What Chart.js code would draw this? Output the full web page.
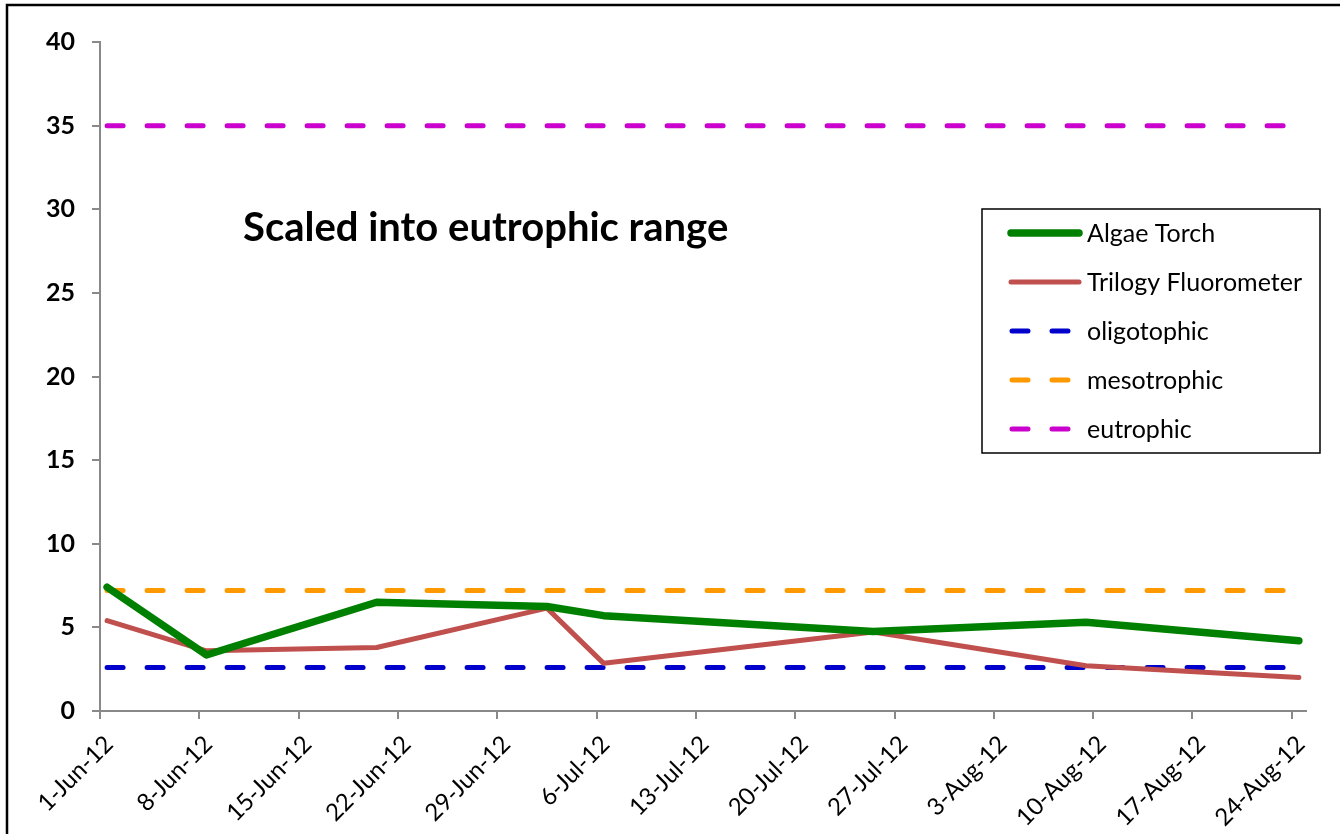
<!DOCTYPE html>
<html><head><meta charset="utf-8">
<script src="https://cdn.jsdelivr.net/npm/chart.js@4.4.0/dist/chart.umd.min.js"></script>
<style>html,body{margin:0;padding:0;background:#fff;}#wrap{width:1340px;height:834px;position:relative;}</style>
</head><body><div id="wrap"><canvas id="c"></canvas></div>
<script>
// ---- data ----
const sampleDates = ['2012-06-01','2012-06-08','2012-06-20','2012-07-02','2012-07-06','2012-07-25','2012-08-09','2012-08-24'];
const algaeTorch  = [7.4, 3.35, 6.5, 6.25, 5.7, 4.75, 5.3, 4.2];
const trilogy     = [5.4, 3.6, 3.8, 6.15, 2.85, 4.72, 2.7, 2.0];
const oligotrophic = 2.6;
const mesotrophic  = 7.2;
const eutrophic    = 35;
const tickLabels = ['1-Jun-12','8-Jun-12','15-Jun-12','22-Jun-12','29-Jun-12','6-Jul-12','13-Jul-12','20-Jul-12','27-Jul-12','3-Aug-12','10-Aug-12','17-Aug-12','24-Aug-12'];
const yTicks = [0,5,10,15,20,25,30,35,40];
const seriesNames = ['Algae Torch','Trilogy Fluorometer','oligotophic','mesotrophic','eutrophic'];
const annotation = 'Scaled into eutrophic range';

// ---- helpers ----
const day0 = Date.UTC(2012,5,1);
function dayOf(s){const p=s.split('-').map(Number);return (Date.UTC(p[0],p[1]-1,p[2])-day0)/86400000;}
// Excel date axis: points sit in the middle of their day
const xs = sampleDates.map(d=>dayOf(d)+0.5);
const pts = arr => arr.map((v,i)=>({x:xs[i],y:v}));
const flat = v => [{x:xs[0],y:v},{x:xs[xs.length-1],y:v}];
const tickDays = tickLabels.map((_,i)=>i*7);

const FONT = 'Lato, "Open Sans", sans-serif';
const colors = ['#008000','#C0504D','#0000CC','#FF9900','#CC00CC'];
const dashed = {borderWidth:5,borderDash:[16,24],borderCapStyle:'round',pointRadius:0,fill:false,tension:0};

const datasets = [
  {label:seriesNames[0],data:pts(algaeTorch),borderColor:colors[0],borderWidth:7.5,pointRadius:0,borderCapStyle:'round',borderJoinStyle:'round',tension:0},
  {label:seriesNames[1],data:pts(trilogy),borderColor:colors[1],borderWidth:5,pointRadius:0,borderCapStyle:'round',borderJoinStyle:'round',tension:0},
  Object.assign({label:seriesNames[2],data:flat(oligotrophic),borderColor:colors[2]},dashed),
  Object.assign({label:seriesNames[3],data:flat(mesotrophic),borderColor:colors[3]},dashed),
  Object.assign({label:seriesNames[4],data:flat(eutrophic),borderColor:colors[4]},dashed)
];

const extras = {
  id:'extras',
  afterDraw(chart){
    const ctx = chart.ctx;
    ctx.save();
    // outer frame
    ctx.strokeStyle='#000'; ctx.lineWidth=2.5;
    ctx.strokeRect(7,5,1345,845);
    // annotation text
    ctx.fillStyle='#000'; ctx.font='bold 40px '+FONT;
    ctx.textBaseline='alphabetic'; ctx.textAlign='left';
    ctx.fillText(annotation,243,241);
    // legend box
    const bx=982, by=209, bw=338, bh=244;
    ctx.lineWidth=1.5; ctx.strokeStyle='#000';
    ctx.strokeRect(bx,by,bw,bh);
    ctx.font='25px '+FONT;
    ctx.textBaseline='middle';
    chart.data.datasets.forEach((ds,i)=>{
      const y = 233 + i*49;
      ctx.beginPath();
      ctx.strokeStyle=ds.borderColor;
      ctx.lineCap='round';
      if(ds.borderDash){ctx.lineWidth=5;ctx.setLineDash([16,24]);ctx.moveTo(1012,y);ctx.lineTo(1080,y);}
      else{ctx.lineWidth=ds.borderWidth;ctx.setLineDash([]);ctx.moveTo(1011,y);ctx.lineTo(1079,y);}
      ctx.stroke();
      ctx.setLineDash([]);
      ctx.fillStyle='#000';
      ctx.fillText(ds.label,1087,y+1);
    });
    ctx.restore();
  }
};

new Chart(document.getElementById('c'),{
  type:'line',
  data:{datasets},
  options:{
    responsive:true, maintainAspectRatio:false, animation:false,
    layout:{padding:{top:42,right:34,left:0,bottom:0}},
    plugins:{legend:{display:false},tooltip:{enabled:false}},
    scales:{
      x:{type:'linear',min:0,max:85,
        afterBuildTicks(ax){ax.ticks=tickDays.map(v=>({value:v}));},
        afterFit(ax){ax.height=123;},
        grid:{display:true,drawOnChartArea:false,drawTicks:true,tickLength:8,color:'#898989',lineWidth:2},
        border:{display:true,color:'#898989',width:2},
        ticks:{autoSkip:false,minRotation:45,maxRotation:45,padding:11,labelOffset:9,color:'#000',
          font:{family:FONT,size:24},
          callback:(v,i)=>tickLabels[i]}
      },
      y:{min:0,max:40,
        afterBuildTicks(ax){ax.ticks=yTicks.map(v=>({value:v}));},
        afterFit(ax){ax.width=100;},
        grid:{display:true,drawOnChartArea:false,drawTicks:true,tickLength:8,color:'#898989',lineWidth:2},
        border:{display:true,color:'#898989',width:2},
        ticks:{padding:17,color:'#000',font:{family:FONT,size:25,weight:'bold'}}
      }
    }
  },
  plugins:[extras]
});
</script></body></html>
